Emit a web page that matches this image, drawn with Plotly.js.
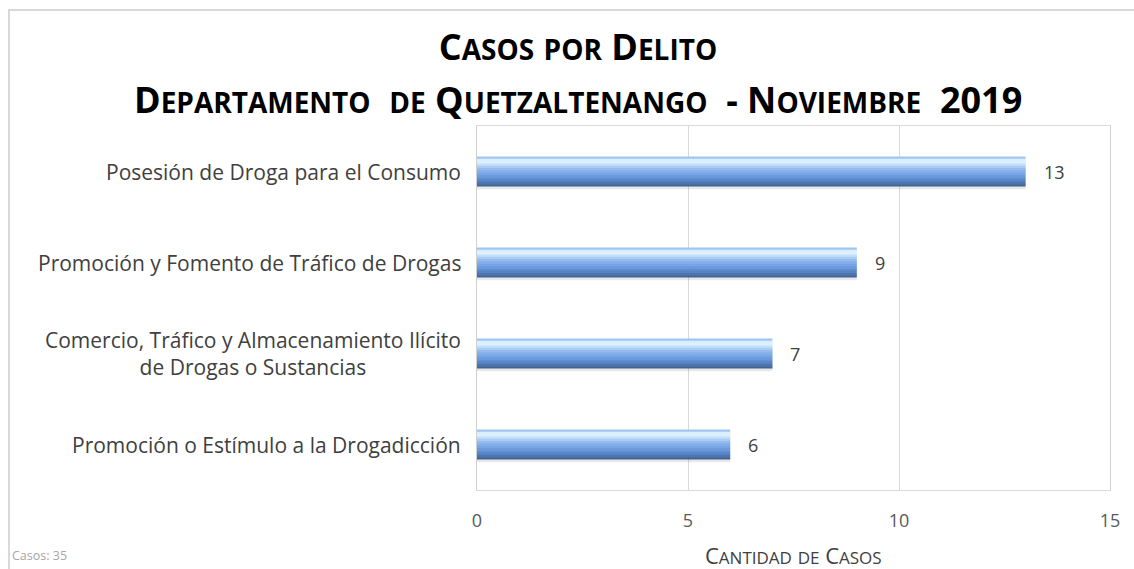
<!DOCTYPE html>
<html><head><meta charset="utf-8">
<script src="https://cdn.plot.ly/plotly-3.0.1.min.js"></script>
<style>
html,body{margin:0;padding:0;background:#fff;overflow:hidden;}
#chart{position:absolute;left:8px;top:9px;width:1126px;height:560px;border-left:2px solid #d9d9d9;border-top:2px solid #d9d9d9;}
</style></head><body><div id="chart"></div>
<script>
// ---- data ----
const categories = [
  'Posesión de Droga para el Consumo',
  'Promoción y Fomento de Tráfico de Drogas',
  'Comercio, Tráfico y Almacenamiento Ilícito<br>de Drogas o Sustancias',
  'Promoción o Estímulo a la Drogadicción'
];
const casos = [13, 9, 7, 6];
const xTicks = [0, 5, 10, 15];
const titleLine1 = 'Casos por Delito';
const titleLine2 = 'Departamento  de Quetzaltenango  - Noviembre  2019';
const xTitle = 'Cantidad de Casos';
const totalLabel = 'Casos: ';

// ---- helpers ----
function smallCaps(str, smallSize) {
  let out = '', run = '';
  const flush = () => { if (run) { out += '<span style="font-size:' + smallSize + 'px">' + run.toUpperCase() + '</span>'; run = ''; } };
  for (const ch of str) {
    if (ch !== ch.toUpperCase() && ch === ch.toLowerCase()) { run += ch; }
    else { flush(); out += ch; }
  }
  flush();
  return out;
}

const barW = 0.33;
const bandColors = ['#9fc6f3','#d9effd','#dcf1fd','#c4e0f9','#a9cbf4','#93bbef','#83afea','#77a5e5','#6b9bde','#618fd4','#5683c6','#4d74ad','#3f6496'];
const traces = [];
// shadow
traces.push({
  type: 'bar', orientation: 'h', y: categories, x: casos,
  width: barW, offset: -barW/2 + 0.03,
  marker: {color: 'rgba(0,0,0,0.09)', line: {width: 0}},
  hoverinfo: 'skip', showlegend: false
});
const bh = barW / bandColors.length;
bandColors.forEach((c, i) => {
  traces.push({
    type: 'bar', orientation: 'h', y: categories, x: casos,
    width: (i === bandColors.length - 1) ? bh : bh + 0.006,
    offset: -barW/2 + i * bh,
    marker: {color: c, line: {width: 0}},
    hoverinfo: 'skip', showlegend: false
  });
});

const annotations = [];
categories.forEach((c, i) => {
  annotations.push({
    xref: 'paper', x: 0, xanchor: 'right', xshift: -14,
    yref: 'y', y: c, yanchor: 'middle',
    text: c, align: 'center', showarrow: false,
    font: {family: 'Open Sans', size: 21, color: '#404040'}
  });
  annotations.push({
    xref: 'x', x: casos[i], xanchor: 'left', xshift: 16,
    yref: 'y', y: c, yanchor: 'middle',
    text: String(casos[i]), showarrow: false,
    font: {family: 'Open Sans', size: 18, color: '#404040'}
  });
});
annotations.push({
  xref: 'paper', x: (578 - 477) / 633, xanchor: 'center',
  yref: 'paper', y: 1, yshift: 27, yanchor: 'middle',
  text: smallCaps(titleLine2, 28), showarrow: false,
  font: {family: 'Open Sans', size: 36, color: '#000000', weight: 'bold'}
});
annotations.push({
  xref: 'paper', x: 0.5, xanchor: 'center',
  yref: 'paper', y: 0, yshift: -65, yanchor: 'middle',
  text: smallCaps(xTitle, 17), showarrow: false,
  font: {family: 'Open Sans', size: 22, color: '#404040'}
});
annotations.push({
  xref: 'paper', x: (10 - 477) / 633, xanchor: 'left',
  yref: 'paper', y: 0, yshift: -65, yanchor: 'middle',
  text: totalLabel + casos.reduce((a, b) => a + b, 0), showarrow: false,
  font: {family: 'Open Sans', size: 12.5, color: '#a6a6a6'}
});

const layout = {
  width: 1126, height: 560,
  margin: {l: 467, r: 26, t: 115, b: 81, pad: 0},
  paper_bgcolor: '#ffffff', plot_bgcolor: '#ffffff',
  barmode: 'overlay', showlegend: false,
  title: {
    text: smallCaps(titleLine1, 28),
    font: {family: 'Open Sans', size: 36, color: '#000000', weight: 'bold'},
    xref: 'container', x: (578 - 10) / 1126, xanchor: 'center',
    yref: 'container', y: 1 - 36/560, yanchor: 'middle'
  },
  xaxis: {
    range: [0, 15], tickvals: xTicks, ticktext: xTicks.map(String),
    showgrid: true, gridcolor: '#d9d9d9', gridwidth: 1,
    zeroline: false, showline: true, linecolor: '#d9d9d9', mirror: true,
    ticks: 'outside', ticklen: 14, tickcolor: 'rgba(0,0,0,0)',
    tickfont: {family: 'Open Sans', size: 18, color: '#595959'},
    fixedrange: true
  },
  yaxis: {
    type: 'category', autorange: 'reversed',
    showticklabels: false, showgrid: false, zeroline: false,
    showline: true, linecolor: '#d0d0d0', mirror: true, ticks: '',
    fixedrange: true
  },
  annotations: annotations
};

Plotly.newPlot('chart', traces, layout, {staticPlot: true, displayModeBar: false});
</script>
</body></html>
